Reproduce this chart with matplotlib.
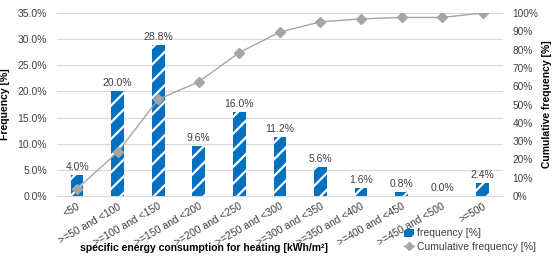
import numpy as np
import matplotlib.pyplot as plt
from matplotlib.ticker import PercentFormatter
from matplotlib.lines import Line2D
from matplotlib.patches import Patch

plt.rcParams['font.family'] = ['Liberation Sans', 'DejaVu Sans']
plt.rcParams['hatch.color'] = 'white'
plt.rcParams['hatch.linewidth'] = 1.6

categories = ["<50", ">=50 and <100", ">=100 and <150", ">=150 and <200", ">=200 and <250",
              ">=250 and <300", ">=300 and <350", ">=350 and <400", ">=400 and <450",
              ">=450 and <500", ">=500"]
frequency = [4.0, 20.0, 28.8, 9.6, 16.0, 11.2, 5.6, 1.6, 0.8, 0.0, 2.4]
cumulative = [4.0, 24.0, 52.8, 62.4, 78.4, 89.6, 95.2, 96.8, 97.6, 97.6, 100.0]

blue = "#0070C0"
gray = "#A5A5A5"
txt = "#404040"

fig = plt.figure(figsize=(5.52, 2.61), dpi=100)
ax = fig.add_axes([0.103, 0.249, 0.808, 0.701])
x = np.arange(len(categories))

ax.bar(x, frequency, width=0.31, color=blue, hatch="//", edgecolor="white", linewidth=0)
for xi, v in zip(x, frequency):
    ax.text(xi, v + 0.6, f"{v:.1f}%", ha="center", va="bottom", fontsize=7.5, color=txt)

ax.set_xlim(-0.5, len(categories) - 0.5)
ax.set_ylim(0, 35)
ax.set_yticks(np.arange(0, 36, 5))
ax.yaxis.set_major_formatter(PercentFormatter(decimals=1))
ax.grid(axis="y", color="#D9D9D9", linewidth=0.8)
ax.set_axisbelow(True)
for s in ["top", "right", "left"]:
    ax.spines[s].set_visible(False)
ax.spines["bottom"].set_color("#D9D9D9")
ax.tick_params(axis="y", length=0, labelsize=7.5, colors=txt, pad=7)
ax.tick_params(axis="x", length=0, labelsize=7.5, colors=txt, pad=4)
ax.set_xticks(x)
ax.set_xticklabels(categories, rotation=30, ha="right", rotation_mode="anchor")
ax.set_ylabel("Frequency [%]", fontsize=7.5, fontweight="bold")
ax.yaxis.set_label_coords(-0.105, 0.5)

ax2 = ax.twinx()
ax2.plot(x, cumulative, color=gray, linewidth=1, marker="D", markersize=5)
ax2.set_ylim(0, 100)
ax2.set_yticks(np.arange(0, 101, 10))
ax2.yaxis.set_major_formatter(PercentFormatter(decimals=0))
for s in ["top", "right", "left", "bottom"]:
    ax2.spines[s].set_visible(False)
ax2.tick_params(length=0, labelsize=7.3, colors=txt, pad=7)
ax2.set_ylabel("Cumulative frequency [%]", fontsize=7.5, fontweight="bold", va="center")
ax2.yaxis.set_label_coords(1.098, 0.5)

fig.text(0.37, 0.04, "specific energy consumption for heating [kWh/m²]", ha="center",
         fontsize=7.5, fontweight="bold", color="black")

handles = [Patch(facecolor=blue, hatch="//", edgecolor="white", linewidth=0),
           Line2D([0], [0], color=gray, marker="D", markersize=4, linewidth=1)]
fig.legend(handles, ["frequency [%]", "Cumulative frequency [%]"], loc="lower left",
           bbox_to_anchor=(0.715, 0.0), frameon=False, fontsize=7.5, handlelength=1.0,
           handletextpad=0.2, labelspacing=0.3, labelcolor=txt)

fig.savefig("out.png", dpi=100)
